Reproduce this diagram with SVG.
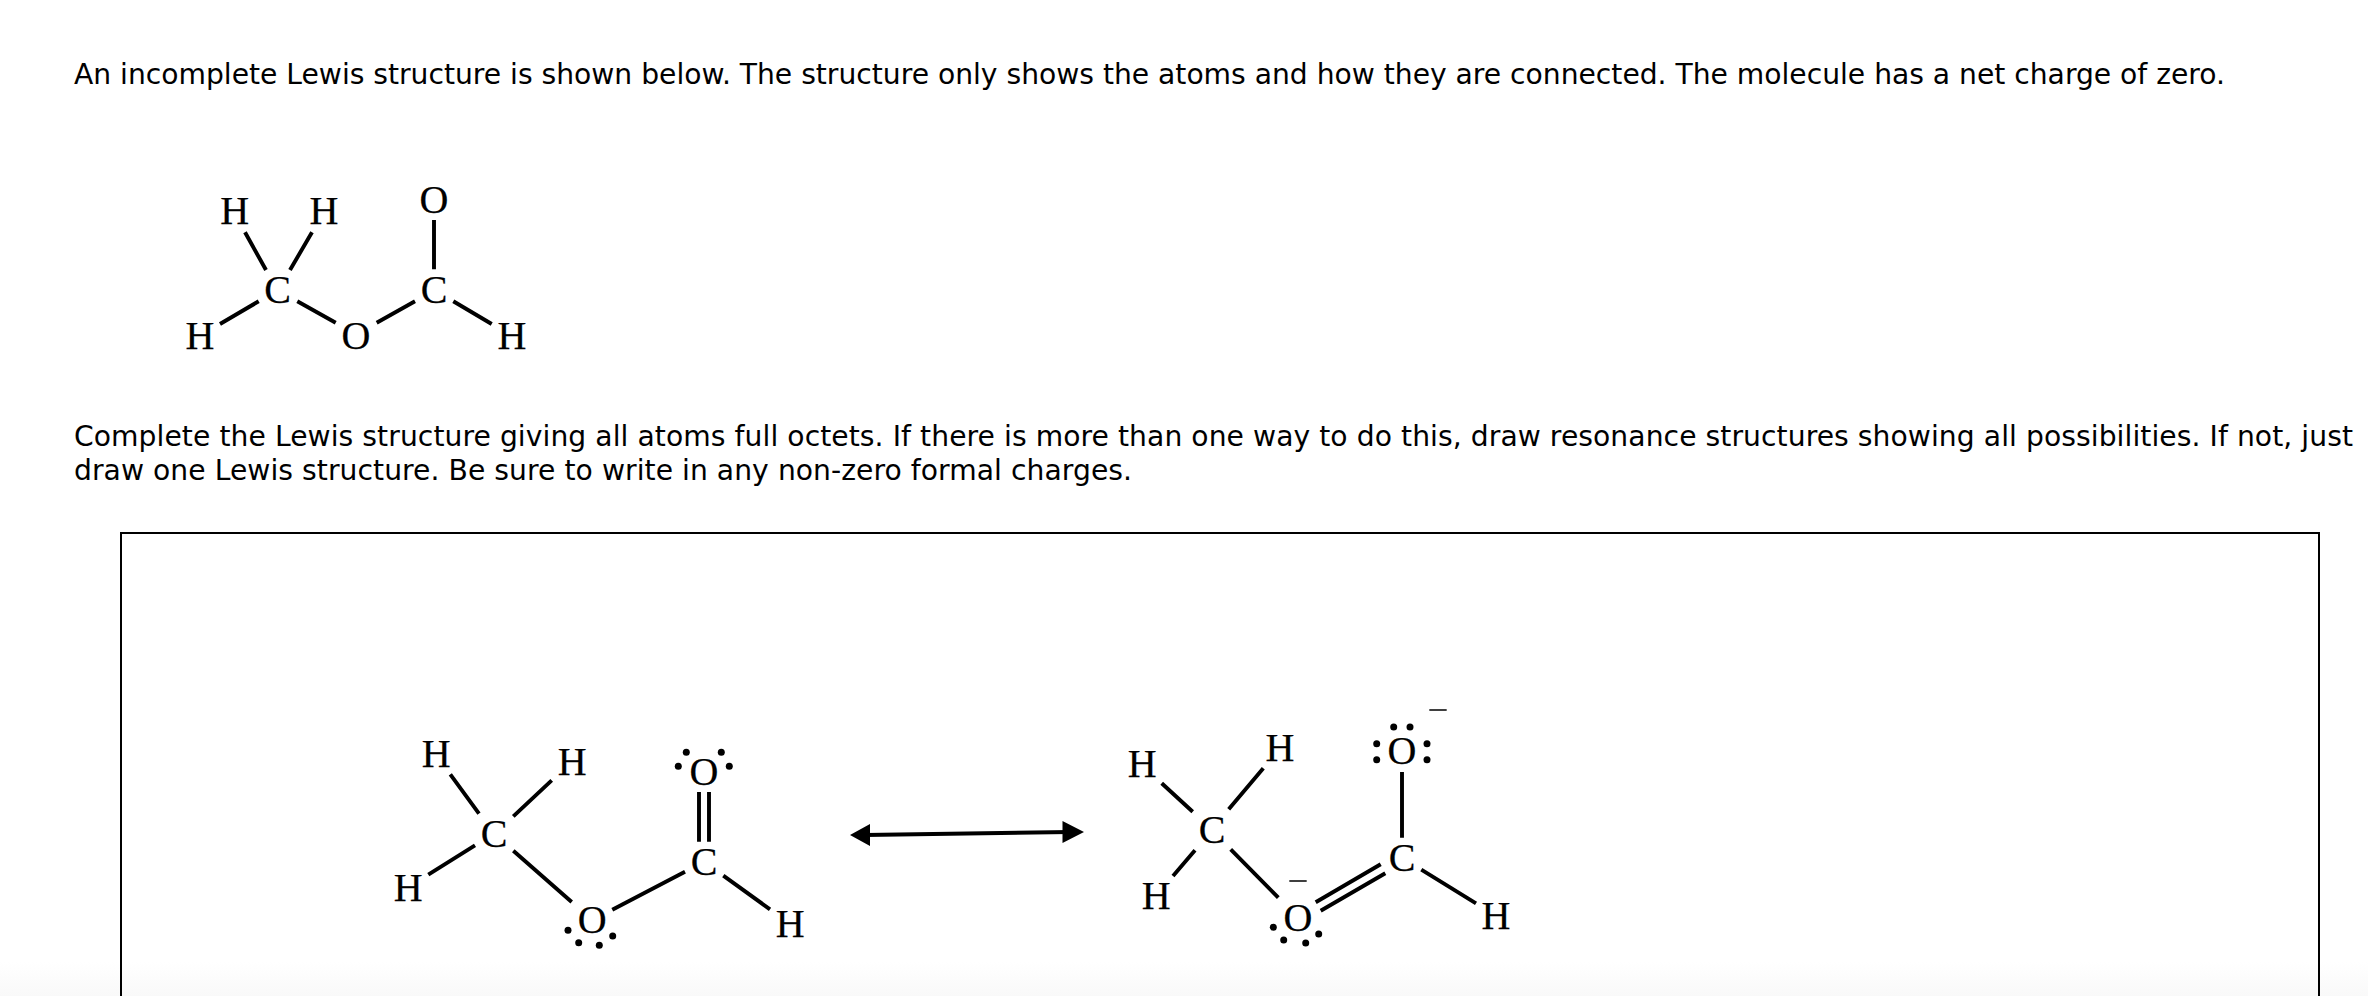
<svg xmlns="http://www.w3.org/2000/svg" width="2368" height="996" viewBox="0 0 2368 996">
<defs>
<linearGradient id="fade" x1="0" y1="0" x2="0" y2="1"><stop offset="0" stop-color="#ffffff"/><stop offset="1" stop-color="#f9f9f9"/></linearGradient>
</defs>
<style>
.t{font-family:"DejaVu Sans",Verdana,sans-serif;font-size:28.2px;fill:#000}
.a{font-family:"Liberation Serif","Times New Roman",serif;font-size:40px;fill:#000;stroke:#000;stroke-width:.25;text-anchor:middle}
.b{stroke:#000;stroke-width:3.9;fill:none}
.m{stroke:#000;stroke-width:1.5;fill:none}
.d{fill:#000}
</style>
<rect width="2368" height="996" fill="#fff"/>
<rect y="962" width="2368" height="34" fill="url(#fade)"/>
<text class="t" x="74" y="84" textLength="2151" lengthAdjust="spacing">An incomplete Lewis structure is shown below. The structure only shows the atoms and how they are connected. The molecule has a net charge of zero.</text>
<text class="t" x="74" y="446" textLength="2279" lengthAdjust="spacing">Complete the Lewis structure giving all atoms full octets. If there is more than one way to do this, draw resonance structures showing all possibilities. If not, just</text>
<text class="t" x="74" y="480" textLength="1058" lengthAdjust="spacing">draw one Lewis structure. Be sure to write in any non-zero formal charges.</text>
<path id="box" d="M121 1000V533H2319V1000" fill="none" stroke="#000" stroke-width="2"/>
<g id="connectors">
<path class="b" d="M245 232.300L266 270M312 232.300L290 270M434 220V269.300M258.700 301.300L220 324M297.300 301.300L335.700 322.700M376.700 322.700L415 301.300M453.300 301.300L491.700 324"/>
<path class="b" d="M450.300 774.300L479 813.700M551.700 780.300L513.300 816.300M475 845.300L428.300 874.700M513.300 850.700L571.700 902M685 871.700L612.300 909.700M723.300 875.700L770 909.300M699 792V841.700M709 792V841.700"/>
<path class="b" d="M1161.700 783.300L1192.700 811.700M1263.300 768.300L1228.700 809.300M1195 850.300L1173 876M1230.700 849.300L1278.300 897.700M1402 772V837.700M1421.300 869.700L1476 903.300M1315.700 902.300L1380.700 864.300M1320.700 910.700L1385.300 873.300"/>
<path id="resonance-arrow" class="b" d="M865 835L1070 832" style="stroke-width:4"/>
<path class="d" d="M850 835L870 824V846ZM1084 832L1062.500 821V843Z"/>
</g>
<g id="incomplete">
<text class="a" x="234.700" y="224">H</text><text class="a" x="324" y="224">H</text><text class="a" x="434" y="213">O</text>
<text class="a" x="277.700" y="303">C</text><text class="a" x="434" y="303">C</text>
<text class="a" x="200" y="349">H</text><text class="a" x="356" y="349">O</text><text class="a" x="512" y="349">H</text>
</g>
<g id="resonance-1">
<text class="a" x="436.300" y="767">H</text><text class="a" x="572.300" y="775">H</text><text class="a" x="704" y="785">O</text>
<text class="a" x="494" y="847">C</text><text class="a" x="704" y="875">C</text>
<text class="a" x="408.300" y="901">H</text><text class="a" x="592.300" y="933">O</text><text class="a" x="790.300" y="937">H</text>
<circle class="d" cx="686.300" cy="752.300" r="3.500"/><circle class="d" cx="721.300" cy="752.300" r="3.500"/><circle class="d" cx="678.300" cy="766.300" r="3.500"/><circle class="d" cx="729.300" cy="766.300" r="3.500"/>
<circle class="d" cx="568" cy="930.300" r="3.500"/><circle class="d" cx="578.700" cy="942.700" r="3.500"/><circle class="d" cx="599.300" cy="945.300" r="3.500"/><circle class="d" cx="612.700" cy="936" r="3.500"/>
</g>
<g id="resonance-2">
<text class="a" x="1142.300" y="777">H</text><text class="a" x="1280" y="761">H</text><text class="a" x="1402" y="764">O</text>
<text class="a" x="1212" y="843">C</text><text class="a" x="1402" y="871">C</text>
<text class="a" x="1156.300" y="909">H</text><text class="a" x="1298" y="931">O</text><text class="a" x="1496" y="929">H</text>
<path class="m" d="M1429.300 710H1446.700M1289.300 881H1306.700"/>
<circle class="d" cx="1393.700" cy="727" r="3.500"/><circle class="d" cx="1410" cy="727" r="3.500"/><circle class="d" cx="1376.700" cy="743.700" r="3.500"/><circle class="d" cx="1376.700" cy="759.700" r="3.500"/><circle class="d" cx="1427" cy="743.700" r="3.500"/><circle class="d" cx="1427" cy="759.700" r="3.500"/>
<circle class="d" cx="1273.300" cy="927.300" r="3.500"/><circle class="d" cx="1283.700" cy="940" r="3.500"/><circle class="d" cx="1305.700" cy="943" r="3.500"/><circle class="d" cx="1318.700" cy="934" r="3.500"/>
</g>
</svg>
